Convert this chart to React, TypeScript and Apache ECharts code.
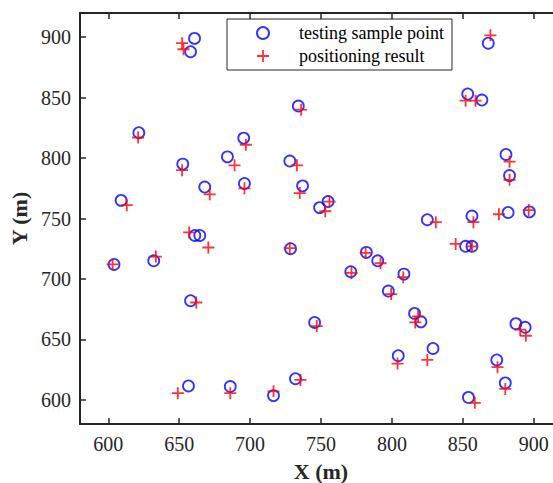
import React, { useEffect, useRef } from "react";
import * as echarts from "echarts";

// Testing sample points (blue circles)
const testX = [660.8, 658, 734, 621.5, 695.5, 684, 728, 652.5, 668, 696, 737, 609, 749, 755, 868, 853.5, 863.5, 880.5, 883, 825, 856.5, 882, 897, 852, 856.5, 782, 790, 771, 808.5, 797.5, 816, 820.5, 887.5, 894, 804.5, 829, 874, 880, 854, 604, 632, 661, 664.5, 728.5, 658, 745.5, 656.5, 686, 716.5, 732];
const testY = [899, 888, 843, 821, 816.5, 801, 797.5, 795, 776, 779, 777, 765, 759, 764, 895, 853, 848, 803, 785.5, 749, 752, 755, 755.5, 727, 727, 722, 715, 706, 704, 690, 671.5, 664.5, 663, 660, 636.5, 642.5, 633, 614, 602, 712, 715, 736, 736, 725, 682, 664, 611.5, 611, 603.5, 617.5];

// Positioning results (red plus)
const resX = [652, 653, 736, 621, 697, 689, 733, 652, 671.5, 696, 735, 613, 753, 756, 869.5, 852, 859, 883, 883, 831, 857.5, 875.5, 896.5, 845, 856.5, 781.5, 792, 771.5, 808, 799.5, 818.5, 816.5, 890.5, 894.5, 804, 825, 874.5, 880, 858.5, 603, 633.5, 657, 670.5, 728, 662, 747, 649, 686, 716.5, 735.5];
const resY = [895, 890, 840, 817, 811, 794, 794, 790, 770, 775, 771, 761, 756, 764, 901.5, 847.5, 847.5, 797, 782, 747, 747, 753.5, 757, 729, 727, 721.5, 713, 705, 701.5, 687.5, 669, 664, 658, 653, 630, 633, 627, 609, 597.5, 712, 718.5, 738.5, 726, 725.5, 680.5, 661, 605.5, 605.5, 607, 616.5];

const tickValues = [600, 650, 700, 750, 800, 850, 900];

const seriesNames = ["testing sample point", "positioning result"];

const FONT = "'Liberation Serif', 'Times New Roman', serif";
const AXIS_COLOR = "#262626";
const PLUS = "path://M5.1,0H6.9V5.1H12V6.9H6.9V12H5.1V6.9H0V5.1H5.1Z";

export default function App() {
  const ref = useRef<HTMLDivElement>(null);
  useEffect(() => {
    if (!ref.current) return;
    const chart = echarts.init(ref.current, null, { renderer: "svg" });
    const testData = testX.map((x, i) => [x, testY[i]]);
    const resData = resX.map((x, i) => [x, resY[i]]);
    const axisCommon = {
      axisLine: { show: true, onZero: false, lineStyle: { color: AXIS_COLOR, width: 2 } },
      axisTick: { show: true, inside: true, length: 6, customValues: tickValues, lineStyle: { color: AXIS_COLOR, width: 1.5 } },
      splitLine: { show: false },
    };
    chart.setOption({
      animation: false,
      backgroundColor: "#ffffff",
      grid: { left: 80, top: 13, right: -9, bottom: 59, containLabel: false, outerBoundsMode: "none" },
      legend: {
        data: seriesNames,
        orient: "vertical",
        left: 227,
        top: 19,
        padding: [5, 8, 5, 29],
        itemGap: 5,
        itemWidth: 12,
        itemHeight: 12,
        backgroundColor: "#ffffff",
        borderColor: AXIS_COLOR,
        borderWidth: 1,
        textStyle: { fontFamily: FONT, fontSize: 18, color: "#000", lineHeight: 18, padding: [0, 0, 0, 25] },
      },
      xAxis: [
        {
          type: "value",
          min: 580,
          max: 920,
          position: "bottom",
          name: "X (m)",
          nameLocation: "middle",
          nameGap: 36,
          nameTextStyle: { fontFamily: FONT, fontSize: 22, fontWeight: "bold", color: AXIS_COLOR },
          axisLabel: { customValues: tickValues, margin: 10, fontFamily: FONT, fontSize: 20, color: AXIS_COLOR },
          ...axisCommon,
        },
        {
          type: "value",
          min: 580,
          max: 920,
          position: "top",
          axisLabel: { show: false },
          ...axisCommon,
        },
      ],
      yAxis: [
        {
          type: "value",
          min: 580,
          max: 920,
          position: "left",
          name: "Y (m)",
          nameLocation: "middle",
          nameGap: 45,
          nameTextStyle: { fontFamily: FONT, fontSize: 22, fontWeight: "bold", color: AXIS_COLOR },
          axisLabel: { customValues: tickValues, margin: 9, fontFamily: FONT, fontSize: 20, color: AXIS_COLOR },
          ...axisCommon,
        },
      ],
      series: [
        {
          name: seriesNames[0],
          type: "scatter",
          symbol: "circle",
          symbolSize: 11,
          data: testData,
          itemStyle: { color: "rgba(0,0,0,0)", borderColor: "#0000ff", borderWidth: 1.8 },
          z: 2,
        },
        {
          name: seriesNames[1],
          type: "scatter",
          symbol: PLUS,
          symbolSize: 12,
          data: resData,
          itemStyle: { color: "#ff0000" },
          z: 3,
        },
      ],
    });
    return () => chart.dispose();
  }, []);
  return (
    <div
      ref={ref}
      style={{ position: "absolute", left: 0, top: 0, width: 553, height: 483, background: "#fff" }}
    />
  );
}
